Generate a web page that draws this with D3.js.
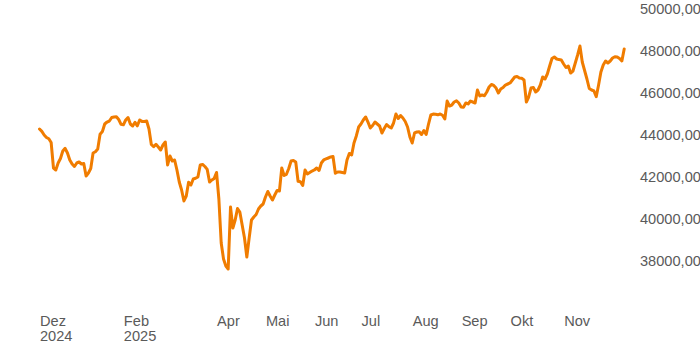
<!DOCTYPE html>
<html>
<head>
<meta charset="utf-8">
<script src="https://cdn.jsdelivr.net/npm/d3@7"></script>
<style>
  body { margin: 0; background: #fff; overflow: hidden; }
  svg { display: block; }
  .axis text { font-family: "Liberation Sans", Arial, sans-serif; font-size: 14.6px; fill: #5a5a5a; }
</style>
</head>
<body>
<div id="chart"></div>
<script>
// daily closes, one per trading day (Dec 2024 - Dec 2025)
var closes = [
  44238, 44124, 43952, 43833, 43771, 43595, 42381, 42286, 42619, 42833,
  43190, 43319, 43095, 42762, 42571, 42452, 42619, 42667, 42571, 42595,
  42000, 42143, 42357, 43095, 43157, 43286, 43990, 44119, 44476, 44571,
  44619, 44786, 44810, 44824, 44690, 44462, 44438, 44667, 44786, 44476,
  44381, 44557, 44390, 44667, 44600, 44600, 44619, 44238, 43500, 43395,
  43509, 43381, 43238, 43476, 43619, 42524, 42952, 42714, 42762, 42286,
  41714, 41333, 40810, 41048, 41700, 41571, 41857, 41890, 41952, 42524,
  42552, 42452, 42314, 41714, 41810, 41886, 42167, 40905, 38810, 38048,
  37714, 37571, 40524, 39524, 39905, 40452, 40286, 39667, 39048, 38143,
  39048, 39905, 40048, 40167, 40429, 40571, 40667, 41000, 41262, 41048,
  40857, 41095, 41310, 41286, 42381, 42024, 42081, 42357, 42714, 42738,
  42667, 41748, 41729, 41548, 42286, 42095, 42167, 42238, 42286, 42381,
  42262, 42619, 42762, 42810, 42857, 42905, 42929, 42129, 42190, 42190,
  42167, 42143, 42762, 43071, 43000, 43571, 43905, 44333, 44476, 44667,
  44810, 44571, 44286, 44405, 44571, 44476, 44381, 44048, 44262, 44452,
  44348, 44286, 44524, 44952, 44738, 44881, 44762, 44595, 44333, 43857,
  43571, 44048, 44095, 44110, 43976, 44167, 43976, 44476, 44905, 44952,
  44943, 44914, 44952, 44890, 44714, 45571, 45333, 45381, 45524, 45581,
  45476, 45286, 45271, 45476, 45429, 45571, 45524, 45476, 46095, 45810,
  45857, 45824, 46000, 46238, 46357, 46310, 46190, 45952, 46143, 46214,
  46333, 46381, 46429, 46571, 46714, 46738, 46667, 46652, 46571, 45524,
  45762, 46190, 46214, 46000, 46095, 46333, 46714, 46619, 46857, 47238,
  47595, 47667, 47571, 47543, 47524, 47333, 47167, 47238, 46905, 47000,
  47381, 47762, 48190, 47429, 47024, 46619, 46167, 46095, 46048, 45776,
  46333, 46952, 47286, 47476, 47381, 47476, 47619, 47681, 47667, 47595,
  47476, 48050
];

// month labels sit on the first trading day of each month (index into closes)
var tickIdx = [0, 36, 76, 97, 118, 138, 160, 181, 202, 225];
var tickLabels = ["Dez|2024", "Feb|2025", "Apr", "Mai", "Jun", "Jul", "Aug", "Sep", "Okt", "Nov"];

var yTicks = [38000, 40000, 42000, 44000, 46000, 48000, 50000];

var width = 700, height = 350;

var svg = d3.select("#chart").append("svg")
  .attr("width", width)
  .attr("height", height);

var x = d3.scaleLinear()
  .domain([0, closes.length - 1])
  .range([39.5, 624.2]);

var y = d3.scaleLinear()
  .domain([38000, 50000])
  .range([260, 8]);

var de = d3.formatLocale({ decimal: ",", thousands: ".", grouping: [3], currency: ["", " €"] });
var fmt = de.format(".2f");

// y axis on the right, labels only
svg.append("g")
  .attr("class", "axis")
  .attr("transform", "translate(640,0)")
  .call(d3.axisRight(y).tickValues(yTicks).tickSize(0).tickPadding(0).tickFormat(fmt))
  .call(function (g) { g.select(".domain").remove(); })
  .selectAll("text")
  .attr("x", 0)
  .attr("dy", "0.35em");

// x axis, two-line labels
var xAxis = svg.append("g")
  .attr("class", "axis")
  .attr("transform", "translate(0,312)")
  .call(d3.axisBottom(x).tickValues(tickIdx).tickSize(0).tickPadding(0)
    .tickFormat(function (d, i) { return tickLabels[i]; }));
xAxis.select(".domain").remove();
xAxis.selectAll("text")
  .attr("text-anchor", "start")
  .attr("y", 0)
  .attr("dy", 0)
  .each(function (d, i) {
    var t = d3.select(this);
    var parts = tickLabels[i].split("|");
    t.text(null);
    parts.forEach(function (p, k) {
      t.append("tspan").attr("x", 0).attr("y", 13.5 + k * 15).text(p);
    });
  });

var line = d3.line()
  .x(function (d, i) { return x(i); })
  .y(function (d) { return y(d); });

svg.append("path")
  .datum(closes)
  .attr("fill", "none")
  .attr("stroke", "#f07c00")
  .attr("stroke-width", 3)
  .attr("stroke-linejoin", "round")
  .attr("stroke-linecap", "round")
  .attr("d", line);
</script>
</body>
</html>
